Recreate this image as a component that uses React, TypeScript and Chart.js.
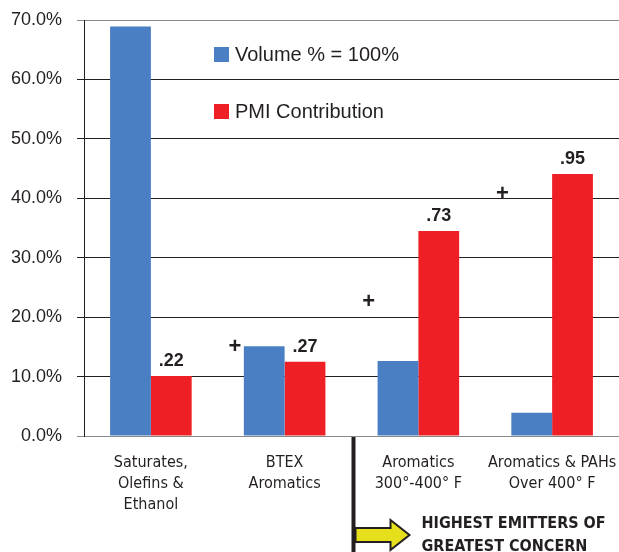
import React, { useEffect, useRef } from "react";
import { Chart, registerables } from "chart.js";

Chart.register(...registerables);

const categories: string[][] = [
  ["Saturates,", "Olefins &", "Ethanol"],
  ["BTEX", "Aromatics"],
  ["Aromatics", "300°-400° F"],
  ["Aromatics & PAHs", "Over 400° F"],
];
const volumeValues = [68.9, 15.1, 12.6, 3.9];
const pmiValues = [10.1, 12.5, 34.5, 44.1];
const pmiLabels = [".22", ".27", ".73", ".95"];
const plusLevels: (number | null)[] = [null, 15.0, 22.6, 40.7];
const yTicks = [0, 10, 20, 30, 40, 50, 60, 70];
const legendNames = ["Volume % = 100%", "PMI Contribution"];
const calloutLines = ["HIGHEST EMITTERS OF", "GREATEST CONCERN"];

const BLUE = "#4a80c3";
const RED = "#ee2025";
const INK = "#231f20";
const REG = "'Liberation Sans', Arial, sans-serif";
const NARROW = "'DejaVu Sans Condensed', 'Liberation Sans', sans-serif";

const overlay = {
  id: "overlay",
  afterDraw(chart: any) {
    const ctx = chart.ctx;
    const x = chart.scales.x;
    const y = chart.scales.y;
    const metaR = chart.getDatasetMeta(1);
    const metaB = chart.getDatasetMeta(0);
    ctx.save();
    ctx.fillStyle = INK;
    ctx.textAlign = "center";
    ctx.textBaseline = "alphabetic";
    ctx.font = `bold 18px ${REG}`;
    metaR.data.forEach((bar: any, i: number) => {
      ctx.fillText(pmiLabels[i], bar.x, bar.y - 10);
    });
    ctx.font = `bold 22px ${REG}`;
    ctx.textBaseline = "middle";
    metaB.data.forEach((bar: any, i: number) => {
      const lv = plusLevels[i];
      if (lv == null) return;
      ctx.fillText("+", bar.x - bar.width / 2 - 9, y.getPixelForValue(lv));
    });

    // legend
    ctx.textAlign = "left";
    ctx.textBaseline = "alphabetic";
    ctx.font = `20px ${REG}`;
    const legendColors = [BLUE, RED];
    const legendY = [47, 104];
    legendNames.forEach((n, i) => {
      ctx.fillStyle = legendColors[i];
      ctx.fillRect(214, legendY[i], 15, 15);
      ctx.fillStyle = INK;
      ctx.fillText(n, 235, legendY[i] + 14);
    });

    // callout
    const p1 = x.getPixelForValue(1);
    const p2 = x.getPixelForValue(2);
    const lx = (p1 + p2) / 2 + 2;
    const top = y.getPixelForValue(0) + 1;
    ctx.fillStyle = INK;
    ctx.fillRect(lx - 2, top, 4, chart.height - top);
    const ay = 535;
    ctx.beginPath();
    ctx.moveTo(lx + 2, ay - 7);
    ctx.lineTo(lx + 37, ay - 7);
    ctx.lineTo(lx + 37, ay - 15);
    ctx.lineTo(lx + 56, ay);
    ctx.lineTo(lx + 37, ay + 15);
    ctx.lineTo(lx + 37, ay + 7);
    ctx.lineTo(lx + 2, ay + 7);
    ctx.closePath();
    ctx.fillStyle = "#e6df1b";
    ctx.fill();
    ctx.lineWidth = 2;
    ctx.strokeStyle = INK;
    ctx.stroke();
    ctx.fillStyle = INK;
    ctx.font = `bold 16px ${NARROW}`;
    ctx.fillText(calloutLines[0], lx + 68, 528);
    ctx.fillText(calloutLines[1], lx + 68, 551);
    ctx.restore();
  },
};

export default function App() {
  const ref = useRef<HTMLCanvasElement | null>(null);
  useEffect(() => {
    document.body.style.margin = "0";
    const chart = new Chart(ref.current!, {
      type: "bar",
      data: {
        labels: categories,
        datasets: [
          { label: legendNames[0], data: volumeValues, backgroundColor: BLUE, categoryPercentage: 0.61, barPercentage: 1 },
          { label: legendNames[1], data: pmiValues, backgroundColor: RED, categoryPercentage: 0.61, barPercentage: 1 },
        ],
      },
      options: {
        animation: false,
        responsive: false,
        devicePixelRatio: 1,
        layout: { padding: { top: 20, left: 0, right: 0, bottom: 0 } },
        plugins: { legend: { display: false }, tooltip: { enabled: false } },
        scales: {
          x: {
            grid: { display: false },
            border: { display: false },
            ticks: { color: INK, font: { family: NARROW, size: 16, lineHeight: 1.31 }, padding: 8, maxRotation: 0, autoSkip: false },
            afterFit: (s: any) => { s.height = 116; s.paddingLeft = 0; s.paddingRight = 0; },
          },
          y: {
            min: 0,
            max: 70,
            z: 1,
            afterBuildTicks: (s: any) => { s.ticks = yTicks.map((v) => ({ value: v })); },
            ticks: { color: INK, font: { family: REG, size: 18 }, padding: 15, callback: (v: any) => Number(v).toFixed(1) + "%" },
            grid: {
              tickLength: 7,
              color: (c: any) => (c.tick && (c.tick.value === 0 || c.tick.value === 70) ? "#8a8a8a" : INK),
              lineWidth: 1,
            },
            border: { color: INK, width: 1 },
            afterFit: (s: any) => { s.width = 84; s.paddingTop = 0; s.paddingBottom = 0; },
          },
        },
      },
      plugins: [overlay],
    });
    return () => chart.destroy();
  }, []);
  return <canvas ref={ref} width={619} height={552} style={{ display: "block" }} />;
}
